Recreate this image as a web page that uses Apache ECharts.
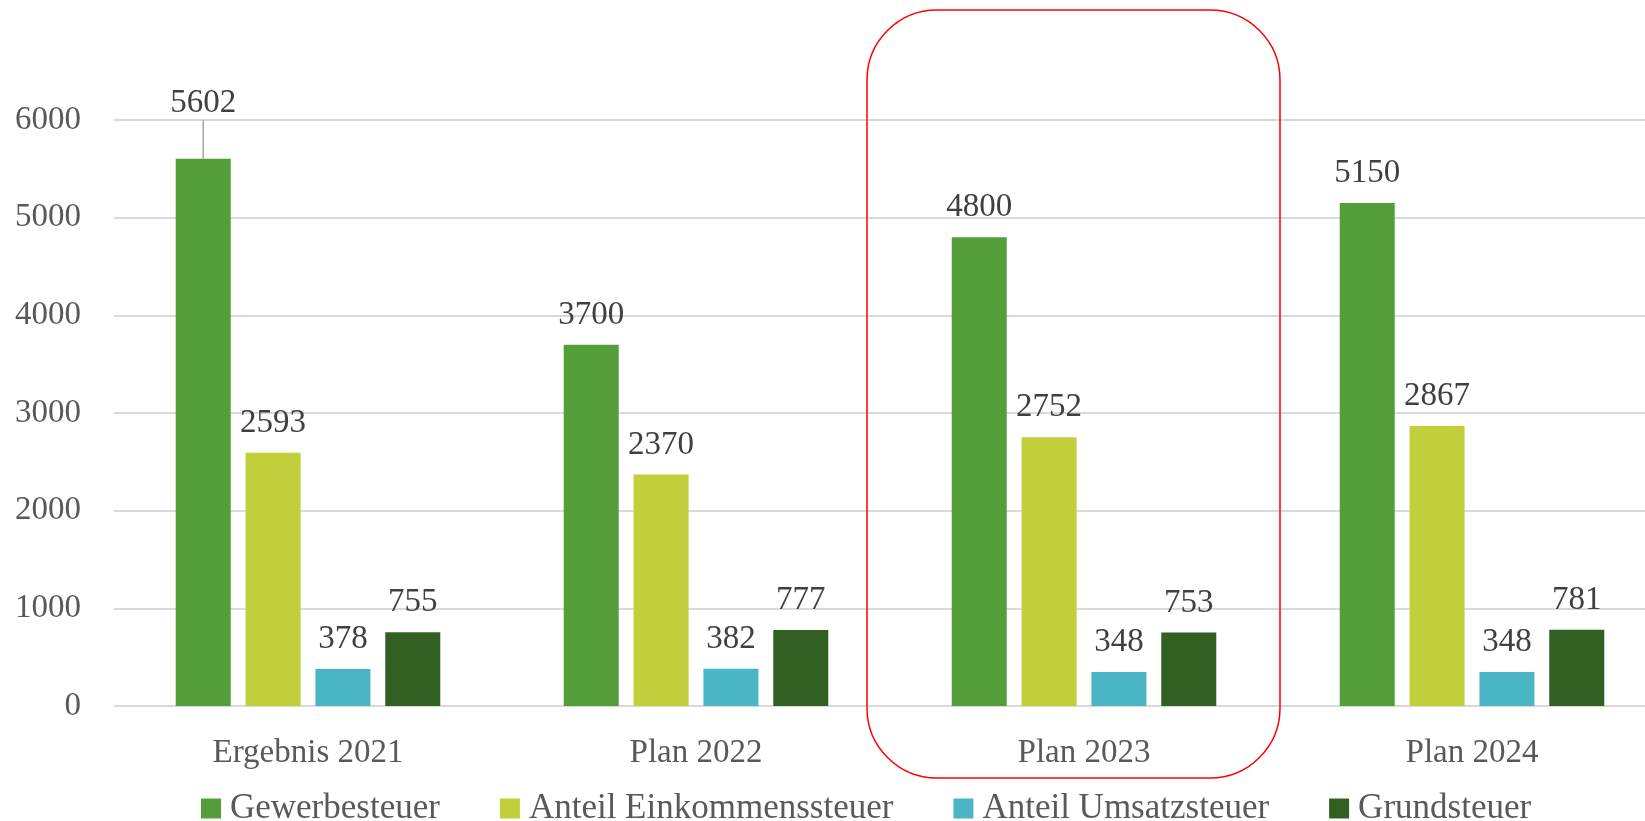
<!DOCTYPE html>
<html>
<head>
<meta charset="utf-8">
<script src="https://cdn.jsdelivr.net/npm/echarts@6/dist/echarts.min.js"></script>
<style>
html,body{margin:0;padding:0;background:#fff;}
#chart{width:1645px;height:821px;}
</style>
</head>
<body>
<div id="chart"></div>
<script>
const categories = ['Ergebnis 2021', 'Plan 2022', 'Plan 2023', 'Plan 2024'];
const seriesNames = ['Gewerbesteuer', 'Anteil Einkommenssteuer', 'Anteil Umsatzsteuer', 'Grundsteuer'];
const gewerbesteuer = [5602, 3700, 4800, 5150];
const einkommenssteuer = [2593, 2370, 2752, 2867];
const umsatzsteuer = [378, 382, 348, 348];
const grundsteuer = [755, 777, 753, 781];
const yTicks = [0, 1000, 2000, 3000, 4000, 5000, 6000];
const highlightCategory = 'Plan 2023';

const colors = ['#549E39', '#C0CF3A', '#4AB5C4', '#325F22'];
const FONT = "'Palatino Linotype', 'Book Antiqua', Palatino, 'Liberation Serif', serif";
const values = [gewerbesteuer, einkommenssteuer, umsatzsteuer, grundsteuer];

const chart = echarts.init(document.getElementById('chart'));

const series = values.map((vals, i) => {
  const s = {
    name: seriesNames[i],
    type: 'bar',
    data: vals.map((v, j) => (i === 0 && j === 0)
      ? { value: v, labelLine: { show: true, lineStyle: { color: '#a6a6a6', width: 1.5 } } }
      : v),
    barWidth: 55,
    barGap: '27%',
    itemStyle: { color: colors[i] },
    labelLine: { show: false },
    label: {
      show: true,
      position: 'top',
      distance: 13,
      fontFamily: FONT,
      fontSize: 33,
      color: '#404040'
    }
  };
  if (i === 0) {
    s.labelLayout = function (p) {
      if (p.dataIndex === 0) return { dy: -26 };
      return {};
    };
  }
  return s;
});

chart.setOption({
  animation: false,
  color: colors,
  grid: { left: 114, top: 120, width: 1552, height: 586, containLabel: false, outerBoundsMode: 'none' },
  legend: {
    data: seriesNames,
    left: 196,
    top: 786,
    itemWidth: 20,
    itemHeight: 20,
    itemGap: 60,
    icon: 'rect',
    textStyle: { fontFamily: FONT, fontSize: 35, color: '#595959', padding: [0, 0, 0, 4] }
  },
  xAxis: {
    type: 'category',
    data: categories,
    axisLine: { show: false },
    axisTick: { show: false },
    axisLabel: { fontFamily: FONT, fontSize: 33, color: '#595959', margin: 31 }
  },
  yAxis: {
    type: 'value',
    min: yTicks[0],
    max: yTicks[yTicks.length - 1],
    interval: yTicks[1] - yTicks[0],
    axisLine: { show: false },
    axisTick: { show: false },
    splitLine: { lineStyle: { color: '#d9d9d9', width: 2 } },
    axisLabel: { fontFamily: FONT, fontSize: 33, color: '#595959', margin: 33, padding: [5, 0, 0, 0], formatter: v => String(v) }
  },
  series: series
});

const cx = chart.convertToPixel({ xAxisIndex: 0 }, highlightCategory);
chart.setOption({
  graphic: [{
    type: 'rect',
    z: 100,
    shape: { x: cx - 217, y: 10, width: 413, height: 768, r: 70 },
    style: { fill: 'none', stroke: '#ff0000', lineWidth: 1.5 }
  }]
});
</script>
</body>
</html>
